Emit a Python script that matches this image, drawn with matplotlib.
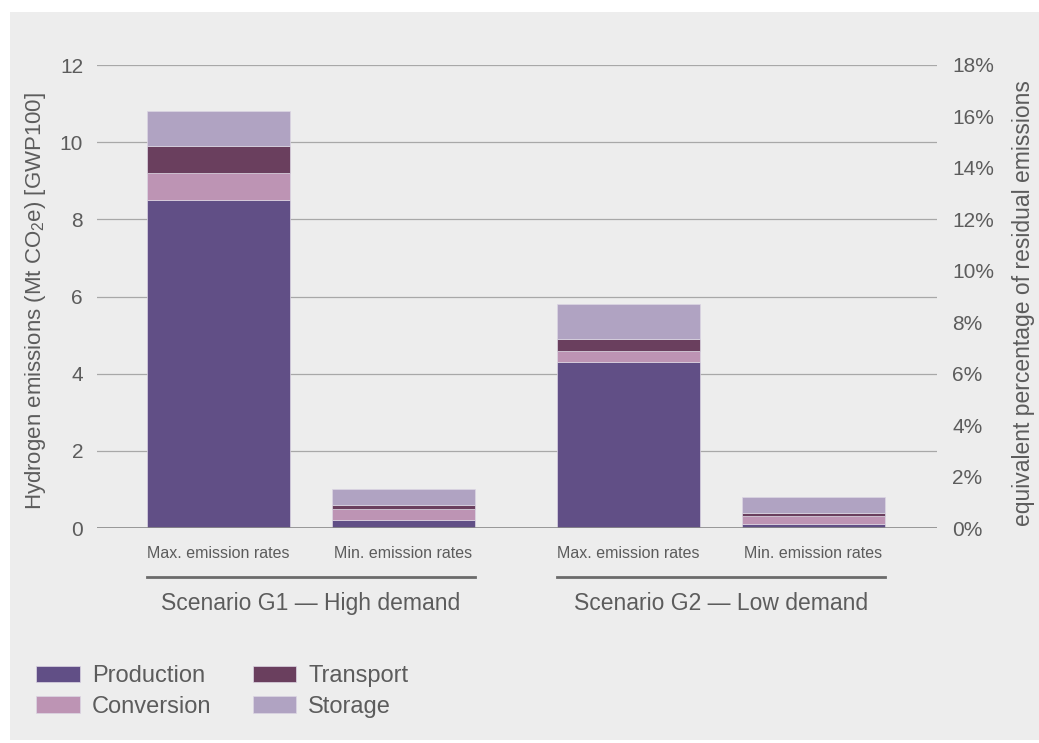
import numpy as np
import matplotlib.pyplot as plt
from matplotlib.patches import Rectangle

plt.rcParams['font.family'] = ['Liberation Sans', 'DejaVu Sans']
plt.rcParams['mathtext.fontset'] = 'custom'
plt.rcParams['mathtext.rm'] = 'Liberation Sans'

# data (Mt CO2e)
bar_labels = ['Max. emission rates', 'Min. emission rates',
              'Max. emission rates', 'Min. emission rates']
groups = ['Scenario G1 — High demand', 'Scenario G2 — Low demand']
production = [8.5, 0.2, 4.3, 0.1]
conversion = [0.7, 0.3, 0.3, 0.2]
transport = [0.7, 0.1, 0.3, 0.08]
storage = [0.9, 0.4, 0.9, 0.42]

series = [('Production', production, '#614f86'),
          ('Conversion', conversion, '#bd94b4'),
          ('Transport', transport, '#6a3f5e'),
          ('Storage', storage, '#b0a3c2')]

txt = '#5c5c5c'
x = np.array([0, 1, 2.216, 3.216])
w = 0.773

fig = plt.figure(figsize=(10.39, 7.43), dpi=100)
fig.patch.set_facecolor('white')
fig.add_artist(Rectangle((10 / 1039, 3 / 743), 1, (743 - 15) / 743,
                         transform=fig.transFigure, facecolor='#ededed',
                         edgecolor='none', zorder=-10))

ax = fig.add_axes([97 / 1039, 1 - 528 / 743, 840 / 1039, 463 / 743])
ax.set_facecolor('none')

bottom = np.zeros(4)
handles = []
for name, vals, col in series:
    b = ax.bar(x, vals, w, bottom=bottom, color=col, label=name,
               edgecolor='#dcd6e3', linewidth=0.5, zorder=3)
    handles.append(b)
    bottom += np.array(vals)

ax.set_xlim(-0.657, 3.884)
ax.set_ylim(0, 12)
ax.set_yticks(range(0, 13, 2))
ax.grid(axis='y', color='#a8a8a8', linewidth=0.9, zorder=0)
ax.axhline(0, color='#8a8a8a', linewidth=1.2, zorder=4)
for s in ax.spines.values():
    s.set_visible(False)
ax.set_xticks(x)
ax.set_xticklabels(bar_labels, fontsize=11.5, color=txt)
ax.tick_params(axis='x', length=0, pad=13)
ax.tick_params(axis='y', length=0, pad=10, labelsize=15, labelcolor=txt)
ax.set_ylabel(r'Hydrogen emissions (Mt CO$_\mathregular{2}$e) [GWP100]',
              fontsize=16, color=txt)
ax.yaxis.set_label_coords(-0.058, 0.49)

ax2 = ax.twinx()
ax2.set_ylim(0, 18)
ax2.set_yticks(range(0, 19, 2))
ax2.set_yticklabels([f'{v}%' for v in range(0, 19, 2)])
ax2.tick_params(axis='y', length=0, pad=11, labelsize=15, labelcolor=txt)
for s in ax2.spines.values():
    s.set_visible(False)
ax2.set_ylabel('equivalent percentage of residual emissions',
               fontsize=16.5, color=txt, rotation=90)
ax2.yaxis.set_label_coords(1.089, 0.485)

# group brackets
tr = ax.get_xaxis_transform()
for i, g in enumerate(groups):
    x0 = x[2 * i] - w / 2
    x1 = x[2 * i + 1] + w / 2
    ax.plot([x0, x1], [-0.106, -0.106], color='#6b6b6b', linewidth=2,
            transform=tr, clip_on=False)
    ax.text((x0 + x1) / 2, -0.163, g, transform=tr, ha='center',
            va='center', fontsize=16.5, color=txt)

fig.legend(handles=handles, labels=[s[0] for s in series], ncol=2,
           loc='upper left', bbox_to_anchor=(36 / 1039, 1 - 665 / 743),
           frameon=False, fontsize=17, labelcolor=txt, handlelength=1.86,
           handleheight=0.68, handletextpad=0.5, columnspacing=1.75,
           labelspacing=0.37, borderpad=0, borderaxespad=0)

fig.savefig('out.png', dpi=100)
